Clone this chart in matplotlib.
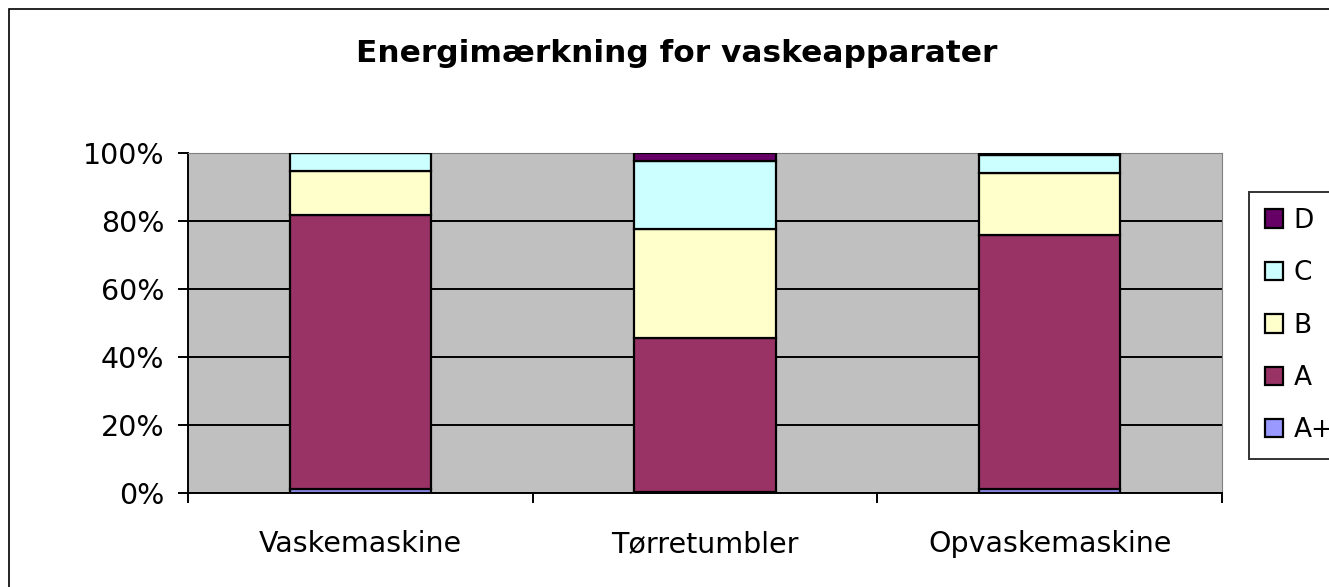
import matplotlib
matplotlib.use("Agg")
import matplotlib.pyplot as plt
from matplotlib.patches import Rectangle
import numpy as np

# ── data (percent of each appliance type) ──
categories = ["Vaskemaskine", "Tørretumbler", "Opvaskemaskine"]
labels = ["A+", "A", "B", "C", "D"]
a_plus = [1.2, 0.3, 1.2]
a = [80.6, 45.3, 74.7]
b = [12.9, 32.0, 18.1]
c = [5.3, 20.0, 5.4]
d = [0.0, 2.4, 0.6]
y_ticks = [0, 20, 40, 60, 80, 100]
y_ticklabels = ["0%", "20%", "40%", "60%", "80%", "100%"]

colors = ["#9999FF", "#993366", "#FFFFCC", "#CCFFFF", "#660066"]

plt.rcParams["font.family"] = ["DejaVu Sans"]

W, H = 1329, 587
fig = plt.figure(figsize=(W / 100, H / 100), dpi=100)
fig.patches.append(Rectangle((9 / W, -0.1), 1.2, 1.1 - 9 / H, transform=fig.transFigure,
                             fill=False, edgecolor="black", linewidth=1.2, zorder=0))

ax = fig.add_axes([188 / W, 1 - 493 / H, (1222 - 188) / W, (493 - 153) / H])
ax.set_facecolor("#C0C0C0")

x = np.arange(len(categories))
bottom = np.zeros(len(categories))
handles = []
for lab, vals, col in zip(labels, [a_plus, a, b, c, d], colors):
    vals = np.array(vals)
    bars = ax.bar(x, vals, 0.41, bottom=bottom, color=col, edgecolor="black",
                  linewidth=1.6, zorder=3, label=lab)
    handles.append(bars)
    bottom += vals

ax.set_xlim(-0.5, 2.5)
ax.set_ylim(0, 100)
ax.set_yticks(y_ticks)
ax.set_yticklabels(y_ticklabels, fontsize=20.5)
ax.yaxis.grid(True, color="black", linewidth=1.4, zorder=1)
ax.set_axisbelow(True)

ax.set_xticks(x)
ax.set_xticklabels(categories, fontsize=20.5)
ax.tick_params(axis="x", length=0, pad=27)
ax.set_xticks([-0.5, 0.5, 1.5, 2.5], minor=True)
ax.tick_params(axis="x", which="minor", length=7, width=1.4, direction="out")
ax.tick_params(axis="y", length=7, width=1.4, direction="out", pad=10)

for side in ["top", "right"]:
    ax.spines[side].set_color("#808080")
ax.spines["left"].set_linewidth(1.4)
ax.spines["bottom"].set_linewidth(1.4)

fig.text(677 / W, 1 - 53 / H, "Energimærkning for vaskeapparater", ha="center",
         va="center", fontsize=22.5, fontweight="bold")

leg = fig.legend(handles[::-1], labels[::-1], loc="upper left",
                 bbox_to_anchor=(1249 / W, 1 - 192 / H), fontsize=19,
                 frameon=True, fancybox=False, edgecolor="black",
                 handlelength=0.7, handleheight=0.7, handletextpad=0.4,
                 labelspacing=1.0, borderpad=0.6, borderaxespad=0)
leg.get_frame().set_linewidth(1.4)

fig.savefig("out.png", dpi=100)
